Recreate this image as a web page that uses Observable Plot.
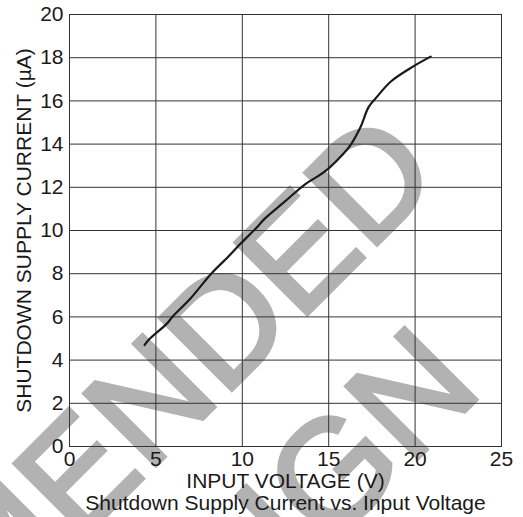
<!DOCTYPE html>
<html><head><meta charset="utf-8">
<script src="https://cdn.jsdelivr.net/npm/d3@7"></script>
<script src="https://cdn.jsdelivr.net/npm/@observablehq/plot@0.6"></script>
<style>body{margin:0;background:#fff} #chart svg{overflow:hidden;display:block}</style>
</head><body><div id="chart"></div>
<script>
const inputVoltage = [4.35, 4.6, 5.65, 5.95, 7.0, 8.2, 9.2, 9.95, 10.85, 11.3, 12.4, 13.65, 14.45, 15.0, 15.85, 16.3, 16.85, 17.3, 17.75, 18.6, 19.9, 20.9];
const supplyCurrent = [4.7, 4.95, 5.7, 6.0, 6.85, 8.0, 8.8, 9.43, 10.15, 10.55, 11.3, 12.15, 12.55, 12.88, 13.55, 14.0, 14.8, 15.7, 16.15, 16.9, 17.6, 18.05];
const xTicks = [0, 5, 10, 15, 20, 25];
const yTicks = [0, 2, 4, 6, 8, 10, 12, 14, 16, 18, 20];
const xLabel = "INPUT VOLTAGE (V)";
const yLabel = "SHUTDOWN SUPPLY CURRENT (µA)";
const caption = "Shutdown Supply Current vs. Input Voltage";
const watermark = ["NOT RECOMMENDED", "FOR NEW DESIGN"];

const data = inputVoltage.map((x, i) => ({x, y: supplyCurrent[i]}));
const font = "'Liberation Sans', Arial, Helvetica, sans-serif";
const ink = "#1a1a1a";
const wmStyle = {text: d => d, rotate: -45, textAnchor: "end", lineAnchor: "bottom", fontSize: 148,
  fill: "#b2b2b2", stroke: "#b2b2b2", strokeWidth: 4, strokeLinejoin: "miter"};

const chart = Plot.plot({
  width: 523, height: 517,
  marginLeft: 69, marginRight: 22, marginTop: 14, marginBottom: 71,
  style: {fontFamily: font, fontSize: "21px", background: "#fff", color: ink},
  x: {domain: [0, 25]},
  y: {domain: [0, 20]},
  marks: [
    Plot.text([watermark[0]], {x: 21.68, y: 12.45, ...wmStyle}),
    Plot.text([watermark[1]], {x: 24.05, y: 2.56, ...wmStyle}),
    Plot.gridX(xTicks, {stroke: "#333", strokeOpacity: 1, strokeWidth: 1}),
    Plot.gridY(yTicks, {stroke: "#333", strokeOpacity: 1, strokeWidth: 1}),
    Plot.frame({stroke: "#333", strokeWidth: 1}),
    Plot.line(data, {x: "x", y: "y", stroke: ink, strokeWidth: 2.2, curve: "catmull-rom"}),
    Plot.axisX(xTicks, {tickSize: 0, tickPadding: 5, label: null, fontSize: 21, fill: ink}),
    Plot.axisY(yTicks, {tickSize: 0, tickPadding: 6, label: null, fontSize: 21, fill: ink}),
    Plot.text([xLabel], {frameAnchor: "bottom", dy: 41, lineAnchor: "bottom", text: d => d, fontSize: 21, fill: ink}),
    Plot.text([caption], {frameAnchor: "bottom", dy: 63, lineAnchor: "bottom", text: d => d, fontSize: 21, fill: ink}),
    Plot.text([yLabel], {frameAnchor: "left", dx: -45.5, rotate: -90, textAnchor: "middle", text: d => d, fontSize: 21, fill: ink})
  ]
});
document.getElementById("chart").append(chart);
</script>
</body></html>
